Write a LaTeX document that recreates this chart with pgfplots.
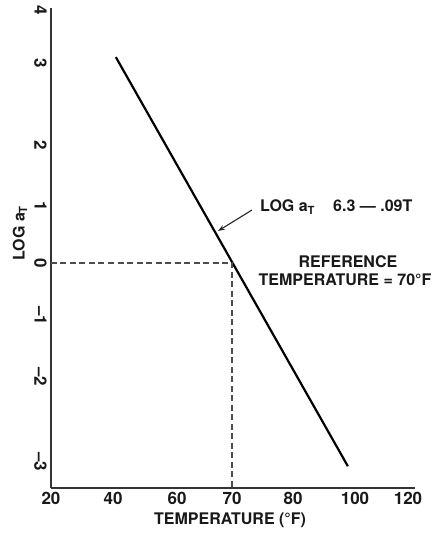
\documentclass[border=0pt]{standalone}
\usepackage{fontspec}
\setmainfont{TeX Gyre Heros}
\usepackage{pgfplots}
\pgfplotsset{compat=1.18}
\usetikzlibrary{arrows.meta}

\begin{document}
\begin{tikzpicture}
\useasboundingbox (0,0) rectangle (438pt,533pt);
\begin{axis}[
  at={(51pt,45pt)}, anchor=south west,
  scale only axis, width=364pt, height=480pt,
  % the printed scales are not uniform: piecewise-linear maps reproduce the printed tick spacing
  x coord trafo/.code={\pgfmathparse{(#1<40) ? (51+(#1-20)*3.1) : ((#1<60) ? (113+(#1-40)*3.2) : ((#1<70) ? (177+(#1-60)*5.5) : ((#1<80) ? (232+(#1-70)*6.1) : ((#1<100) ? (293+(#1-80)*3.1) : (355+(#1-100)*2.65)))))}},
  y coord trafo/.code={\pgfmathparse{(#1<(-2)) ? (156+(#1+2)*85) : ((#1<(-1)) ? (217+(#1+1)*61) : ((#1<0) ? (270+(#1)*53) : ((#1<1) ? (270+(#1)*57) : ((#1<2) ? (327+(#1-1)*61) : ((#1<3) ? (388+(#1-2)*82) : (470+(#1-3)*53))))))}},
  xmin=20, xmax=122.64, ymin=-3.306, ymax=4.038,
  axis lines=left,
  axis line style={-, line width=1.4pt, black!80},
  xtick={20,40,60,70,80,100,120},
  xticklabels={20,40,60,70,80,100,120},
  ytick={-3,-2,-1,0,1,2,3,4},
  yticklabels={--3,--2,--1,0,1,2,3,4},
  major tick length=0pt,
  tick label style={font=\fontsize{17}{20}\selectfont\bfseries, text=black!90},
  xticklabel style={inner sep=4pt},
  yticklabel style={rotate=-90, anchor=north, inner sep=4pt},
  xlabel={TEMPERATURE (°F)},
  ylabel={LOG a\textsubscript{T}},
  every axis x label/.style={at={(axis description cs:0.492,-0.0667)}, anchor=center, font=\fontsize{16}{19}\selectfont\bfseries, text=black!90},
  every axis y label/.style={at={(axis description cs:-0.0852,0.531)}, rotate=90, anchor=center, font=\fontsize{16}{19}\selectfont\bfseries, text=black!90},
  clip=false,
]
\addplot[black, line width=2.2pt] coordinates {(40.9,3.11) (97.7,-3.05)};
\addplot[gray!60!black, line width=1.3pt, dash pattern=on 6pt off 3.5pt] coordinates {(20,0) (70,0) (70,-3.306)};
\end{axis}
\begin{scope}[font=\fontsize{16}{19}\selectfont\bfseries, text=black!90]
\draw[-{Stealth[length=7pt,width=5pt]}, line width=1.1pt, black!85] (252pt,323pt) -- (218pt,302pt);
\node[anchor=base west, inner sep=0pt] at (260pt,321pt) {LOG a\textsubscript{T}};
\node[anchor=base west, inner sep=0pt] at (333pt,321pt) {6.3 — .09T};
\node[anchor=base, inner sep=0pt] at (348pt,265pt) {REFERENCE};
\node[anchor=base, inner sep=0pt] at (345pt,247pt) {TEMPERATURE = 70°F};
\end{scope}
\end{tikzpicture}
\end{document}
